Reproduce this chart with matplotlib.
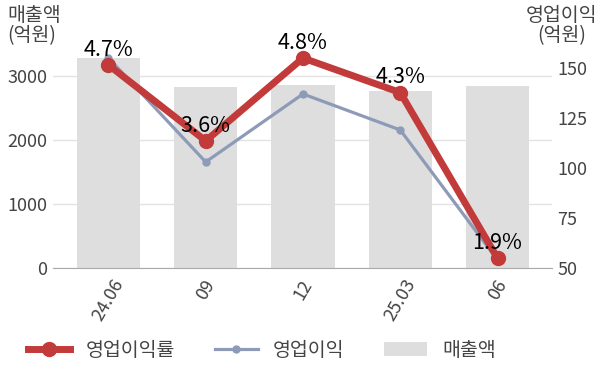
import matplotlib
matplotlib.use("Agg")
import matplotlib.pyplot as plt
from matplotlib.patches import Patch
from matplotlib.lines import Line2D

plt.rcParams['font.family'] = ['Noto Sans CJK KR', 'DejaVu Sans']

quarters = ["24.06", "09", "12", "25.03", "06"]
sales = [3281, 2828, 2860, 2766, 2844]          # 매출액 (억원)
op_profit = [155, 103, 137, 119, 54]            # 영업이익 (억원)
op_margin = [4.7, 3.6, 4.8, 4.3, 1.9]           # 영업이익률 (%)

txt = '#444444'
red = '#c23a3a'
blue = '#8e9bb8'
bar_c = '#dedede'

fig = plt.figure(figsize=(6, 3.83), dpi=100)
ax = fig.add_axes([0.0883, 0.3003, 0.8317, 0.5692])
x = list(range(len(quarters)))

ax.bar(x, sales, width=0.65, color=bar_c, zorder=2)
ax.set_ylim(0, 3406)
ax.set_xlim(-0.57, 4.56)
ax.set_yticks([0, 1000, 2000, 3000])
ax.grid(axis='y', color='#e3e3e3', linewidth=1)
ax.set_axisbelow(True)
for s in ['top', 'right', 'left']:
    ax.spines[s].set_visible(False)
ax.spines['bottom'].set_color('#aaaaaa')
ax.tick_params(axis='y', length=0, pad=4, labelsize=13, labelcolor=txt)
ax.tick_params(axis='x', length=0, pad=6, labelsize=13, labelcolor=txt)
ax.set_xticks(x)
ax.set_xticklabels(quarters, rotation=60, ha='center')

ax2 = ax.twinx()
ax2.plot(x, op_profit, color=blue, linewidth=2.3, marker='o', markersize=5)
ax2.set_ylim(50, 159)
ax2.set_yticks([50, 75, 100, 125, 150])
ax2.tick_params(axis='y', length=0, pad=4, labelsize=13, labelcolor=txt)
for s in ax2.spines.values():
    s.set_visible(False)

ax3 = ax.twinx()
ax3.plot(x, op_margin, color=red, linewidth=5, marker='o', markersize=10, solid_capstyle='round')
ax3.set_ylim(1.758, 4.917)
ax3.set_yticks([])
for s in ax3.spines.values():
    s.set_visible(False)
for i, v in enumerate(op_margin):
    ax3.annotate(f"{v}%", (i, v), xytext=(0, 3), textcoords='offset points',
                 ha='center', va='bottom', fontsize=15.5, color='black')

fig.text(0.012, 0.988, "매출액\n(억원)", ha='left', va='top', fontsize=14,
         color=txt, linespacing=1.0)
fig.text(0.996, 0.988, "영업이익\n(억원)", ha='right', va='top', fontsize=14,
         color=txt, linespacing=1.0, multialignment='center')

handles = [
    Line2D([], [], color=red, linewidth=5, marker='o', markersize=10),
    Line2D([], [], color=blue, linewidth=2.3, marker='o', markersize=5),
    Patch(facecolor=bar_c, edgecolor='none'),
]
labels = ["영업이익률", "영업이익", "매출액"]
leg = fig.legend(handles, labels, loc='center', bbox_to_anchor=(0.436, 0.085), ncol=3,
                 frameon=False, fontsize=14, handlelength=2.2, handletextpad=0.77,
                 columnspacing=2.06)
for t in leg.get_texts():
    t.set_color(txt)

fig.savefig("out.png", dpi=100)
